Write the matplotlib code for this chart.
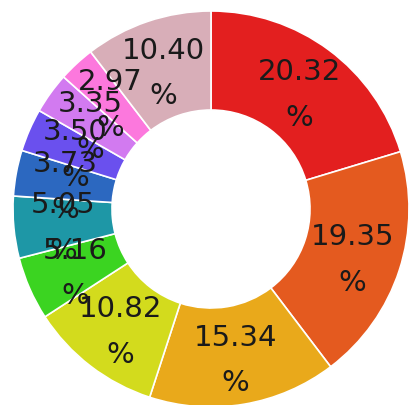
import numpy as np
from matplotlib import pyplot as plt

# доли в процентах, по часовой стрелке от верха
values = [20.32, 19.35, 15.34, 10.82, 5.16, 5.05, 3.73, 3.50, 3.35, 2.97, 10.40]
labels = [f'{v:.2f}\n%' for v in values]
colors = ['#E31F1F', '#E45A1F', '#E9A91B', '#D3DB1D', '#3BD421', '#1E97A6',
          '#2C68C0', '#6A50EE', '#D27AF0', '#FC78DD', '#D8AEB8']

fig = plt.figure(figsize=(4.10, 4.05), dpi=100)
ax = fig.add_axes([13 / 410, -2 / 405, 396 / 410, 396 / 405])

wedges, _ = ax.pie(values, colors=colors, startangle=90, counterclock=False,
                   radius=1.0, wedgeprops=dict(width=0.5, edgecolor='white', linewidth=1.2))

for w, lab in zip(wedges, labels):
    ang = np.deg2rad((w.theta1 + w.theta2) / 2)
    ax.text(0.75 * np.cos(ang), 0.75 * np.sin(ang) - 0.025, lab, ha='center', va='center',
            fontsize=21, color='#1a1a1a', linespacing=1.8, family='DejaVu Sans')

ax.set_xlim(-1, 1)
ax.set_ylim(-1, 1)
ax.set_aspect('equal')
ax.axis('off')

fig.savefig('out.png', dpi=100)
